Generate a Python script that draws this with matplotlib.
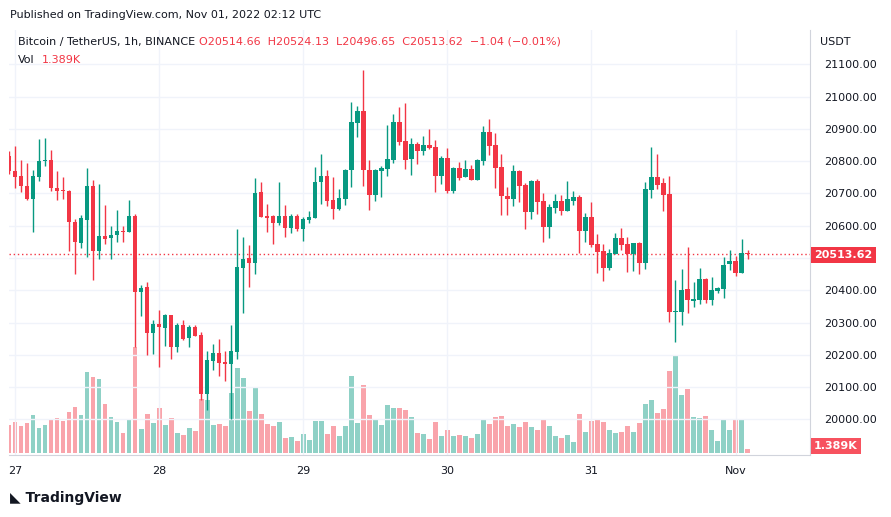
import matplotlib
matplotlib.use("Agg")
import matplotlib.pyplot as plt
import numpy as np

# hourly candles, Oct 27 (index 1 = 00:00) .. Nov 01 02:00
opens = [20816, 20770, 20754, 20724, 20684, 20752, 20799, 20804, 20717, 20711,
         20708, 20612, 20545, 20619, 20723, 20523, 20568, 20563, 20570, 20584,
         20582, 20630, 20396, 20411, 20269, 20296, 20282, 20324, 20223, 20293,
         20251, 20287, 20262, 20080, 20182, 20206, 20178, 20173, 20209, 20470,
         20500, 20483, 20705, 20631, 20631, 20607, 20631, 20594, 20631, 20591,
         20619, 20625, 20734, 20754, 20681, 20653, 20684, 20771, 20919, 20955,
         20774, 20696, 20768, 20777, 20804, 20921, 20863, 20807, 20853, 20832,
         20850, 20844, 20754, 20810, 20708, 20779, 20751, 20776, 20742, 20801,
         20891, 20850, 20782, 20692, 20683, 20770, 20726, 20643, 20739, 20677,
         20596, 20655, 20677, 20646, 20677, 20689, 20585, 20627, 20544, 20522,
         20470, 20513, 20562, 20544, 20513, 20547, 20486, 20711, 20751, 20732,
         20698, 20333, 20334, 20404, 20368, 20371, 20435, 20371, 20398, 20405,
         20480, 20491, 20455, 20514.66]
highs = [20830, 20847, 20804, 20795, 20773, 20869, 20872, 20835, 20770, 20751,
         20711, 20621, 20633, 20779, 20742, 20729, 20664, 20599, 20649, 20599,
         20680, 20637, 20415, 20426, 20308, 20339, 20327, 20324, 20300, 20308,
         20294, 20293, 20272, 20212, 20234, 20250, 20212, 20293, 20590, 20565,
         20541, 20748, 20736, 20667, 20634, 20736, 20664, 20637, 20637, 20628,
         20644, 20782, 20822, 20773, 20751, 20715, 20777, 20983, 20971, 21082,
         20805, 20777, 20786, 20912, 20946, 20968, 20980, 20872, 20859, 20878,
         20900, 20866, 20816, 20841, 20782, 20798, 20804, 20788, 20807, 20909,
         20931, 20887, 20822, 20720, 20788, 20773, 20733, 20742, 20745, 20702,
         20668, 20699, 20695, 20739, 20708, 20695, 20640, 20674, 20575, 20544,
         20528, 20578, 20593, 20565, 20547, 20550, 20736, 20844, 20822, 20748,
         20754, 20432, 20466, 20534, 20426, 20469, 20438, 20441, 20411, 20503,
         20525, 20506, 20559, 20524.13]
lows = [20760, 20718, 20703, 20680, 20582, 20737, 20786, 20706, 20680, 20684,
        20523, 20452, 20532, 20502, 20433, 20498, 20542, 20498, 20548, 20551,
        20582, 20224, 20319, 20201, 20204, 20164, 20229, 20186, 20210, 20247,
        20223, 20257, 20061, 20028, 20154, 20135, 20119, 20002, 20188, 20330,
        20411, 20451, 20628, 20581, 20544, 20603, 20566, 20576, 20585, 20554,
        20607, 20625, 20668, 20662, 20622, 20650, 20665, 20721, 20876, 20724,
        20650, 20678, 20690, 20755, 20794, 20850, 20776, 20757, 20791, 20819,
        20838, 20705, 20729, 20702, 20702, 20742, 20751, 20742, 20742, 20788,
        20819, 20717, 20633, 20633, 20661, 20674, 20590, 20621, 20637, 20550,
        20562, 20640, 20633, 20646, 20664, 20517, 20551, 20535, 20455, 20430,
        20464, 20513, 20525, 20458, 20461, 20452, 20467, 20687, 20714, 20647,
        20303, 20241, 20294, 20331, 20347, 20359, 20362, 20356, 20393, 20377,
        20464, 20443, 20455, 20496.65]
closes = [20768, 20752, 20724, 20683, 20754, 20801, 20804, 20718, 20709, 20706,
          20610, 20548, 20624, 20723, 20523, 20568, 20560, 20571, 20584, 20582,
          20630, 20396, 20408, 20269, 20296, 20285, 20324, 20223, 20293, 20250,
          20287, 20260, 20080, 20184, 20206, 20176, 20173, 20212, 20472, 20497,
          20483, 20701, 20628, 20625, 20607, 20631, 20594, 20631, 20591, 20622,
          20628, 20736, 20754, 20678, 20653, 20687, 20774, 20921, 20955, 20771,
          20696, 20771, 20780, 20808, 20921, 20859, 20804, 20853, 20832, 20850,
          20841, 20754, 20810, 20708, 20779, 20748, 20776, 20742, 20804, 20891,
          20847, 20779, 20692, 20683, 20770, 20723, 20643, 20739, 20674, 20596,
          20658, 20677, 20646, 20683, 20689, 20585, 20627, 20541, 20520, 20470,
          20516, 20562, 20541, 20513, 20547, 20486, 20714, 20751, 20726, 20695,
          20334, 20336, 20401, 20371, 20373, 20435, 20371, 20401, 20407, 20479,
          20491, 20455, 20516, 20513.62]
volumes_k = [9.9, 11.0, 9.6, 10.6, 13.4, 8.9, 9.9, 12.0, 12.4, 11.3,
             14.5, 16.2, 13.4, 28.5, 26.7, 26.0, 17.3, 12.7, 11.0, 7.1,
             11.7, 37.1, 8.5, 13.8, 10.6, 15.9, 9.9, 12.4, 7.1, 6.4,
             8.9, 7.8, 18.9, 18.6, 9.8, 10.2, 9.5, 21.1, 29.8, 26.3,
             14.7, 22.8, 13.7, 10.2, 9.5, 10.9, 5.3, 5.6, 4.2, 6.7,
             4.6, 11.2, 11.2, 6.7, 9.5, 6.0, 9.5, 27.0, 10.5, 23.8,
             13.3, 11.6, 9.8, 16.8, 15.8, 15.8, 15.1, 12.6, 7.0, 6.7,
             4.9, 10.9, 6.0, 8.1, 6.0, 6.3, 6.0, 5.3, 6.7, 11.9,
             10.2, 12.6, 13.0, 9.5, 10.2, 9.1, 10.9, 9.1, 8.1, 11.9,
             9.5, 6.0, 5.3, 6.3, 3.9, 13.7, 7.4, 11.2, 11.6, 10.9,
             8.1, 7.0, 7.4, 9.5, 7.4, 10.5, 17.2, 18.6, 14.0, 15.4,
             28.7, 34.0, 20.3, 22.4, 12.6, 12.3, 13.0, 8.1, 4.2, 11.9,
             8.1, 11.6, 11.6, 1.389]
day_labels = ["27", "28", "29", "30", "31", "Nov"]
day_index = [1, 25, 49, 73, 97, 121]
price_ticks = [20000, 20100, 20200, 20300, 20400, 20500, 20600, 20700,
               20800, 20900, 21000, 21100]

GREEN = "#089981"
RED = "#F23645"
GRID = "#f0f3fa"
TEXT = "#131722"

o = np.array(opens); c = np.array(closes)
h = np.array(highs); l = np.array(lows)
v = np.array(volumes_k)
x = np.arange(len(o))
up = c >= o
cols = np.where(up, GREEN, RED)

W, H = 891, 517
XLIM = (0, 133.4)
fig = plt.figure(figsize=(W / 100, H / 100), dpi=100)
rect = [9 / W, (H - 455) / H, (810 - 9) / W, (455 - 30) / H]

axv = fig.add_axes(rect)
axv.bar(x, v, width=0.8, color=cols, alpha=0.45, linewidth=0)
axv.set_xlim(*XLIM)
axv.set_ylim(-0.7, 148)
axv.axis("off")

ax = fig.add_axes(rect, facecolor="none")
ax.set_xlim(*XLIM)
ax.set_ylim(19890, 21206)
for t in price_ticks:
    ax.axhline(t, color=GRID, lw=1, zorder=0)
for d in day_index:
    ax.axvline(d, color=GRID, lw=1, zorder=0)
ax.vlines(x, l, h, colors=cols, lw=1, zorder=2)
ax.bar(x, np.maximum(np.abs(c - o), 2), bottom=np.minimum(o, c), width=0.75,
       color=cols, linewidth=0, zorder=3)
ax.axhline(closes[-1], color=RED, lw=1, ls=(0, (1, 2)), zorder=1)

ax.yaxis.tick_right()
ax.set_yticks(price_ticks)
# the 20500 label sits under the last-price tag, as in the original
ax.set_yticklabels(["" if t == 20500 else "%.2f" % t for t in price_ticks])
ax.set_xticks(day_index)
ax.set_xticklabels(day_labels)
ax.tick_params(length=0, labelsize=8, colors=TEXT, pad=8)
ax.tick_params(axis="y", pad=10)
for s in ["top", "left"]:
    ax.spines[s].set_visible(False)
for s in ["right", "bottom"]:
    ax.spines[s].set_color("#d1d4dc")

# last price and volume tags
fig.text(814 / W, 1 - 255 / H, "%.2f" % closes[-1], fontsize=8, color="white",
         fontweight="bold", va="center", ha="left",
         bbox=dict(boxstyle="square,pad=0.3", fc=RED, ec="none"))
fig.text(814 / W, 1 - 446 / H, "%.3fK" % volumes_k[-1], fontsize=8, color="white",
         fontweight="bold", va="center", ha="left",
         bbox=dict(boxstyle="square,pad=0.3", fc="#f7525f", ec="none"))
fig.text(820 / W, 1 - 42 / H, "USDT", fontsize=8, color=TEXT, va="center")

fig.text(10 / W, 1 - 15 / H, "Published on TradingView.com, Nov 01, 2022 02:12 UTC",
         fontsize=8, color=TEXT, va="center")
fig.text(18 / W, 1 - 42 / H, "Bitcoin / TetherUS, 1h, BINANCE", fontsize=8,
         color=TEXT, va="center")
fig.text(199 / W, 1 - 42 / H,
         "O20514.66  H20524.13  L20496.65  C20513.62  \u22121.04 (\u22120.01%)",
         fontsize=8, color=RED, va="center")
fig.text(18 / W, 1 - 60 / H, "Vol", fontsize=8, color=TEXT, va="center")
fig.text(42 / W, 1 - 60 / H, "1.389K", fontsize=8, color=RED, va="center")
fig.text(10 / W, 1 - 498 / H, "\u25e3 TradingView", fontsize=10, color=TEXT,
         va="center", fontweight="bold")

fig.savefig("out.png", dpi=100)
